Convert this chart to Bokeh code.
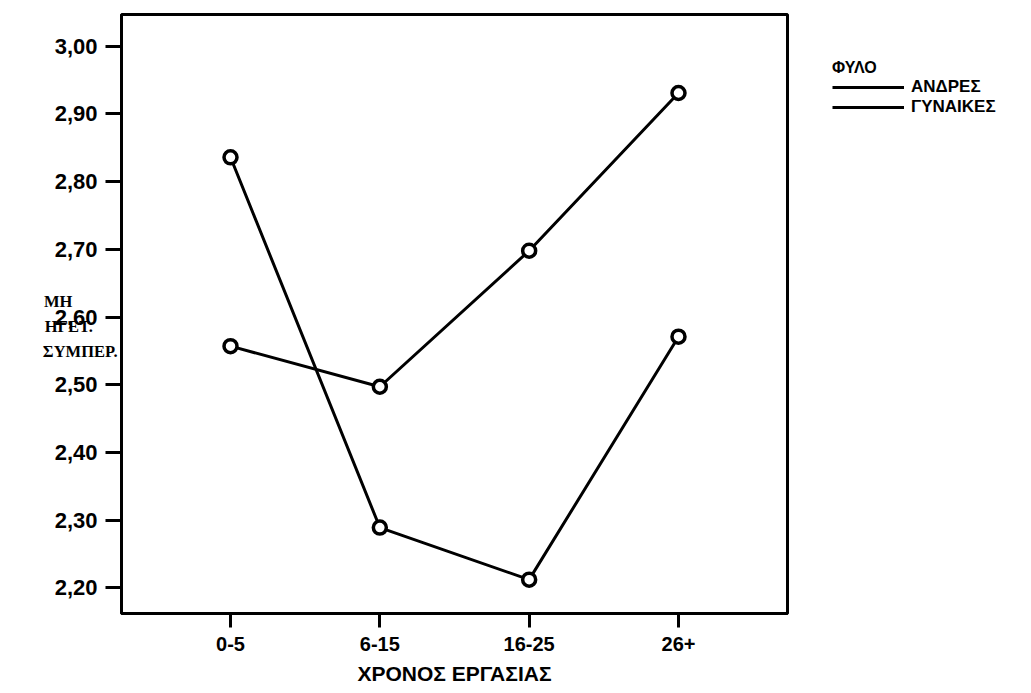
from bokeh.plotting import figure
from bokeh.models import FixedTicker, Range1d, Legend, LegendItem
from bokeh.embed import file_html
from bokeh.resources import INLINE

# ---- data ----
categories = ["0-5", "6-15", "16-25", "26+"]
men_values = [2.557, 2.497, 2.698, 2.931]
women_values = [2.836, 2.289, 2.212, 2.571]
series_names = ["ΑΝΔΡΕΣ", "ΓΥΝΑΙΚΕΣ"]
legend_title = "ΦΥΛΟ"
x_title = "ΧΡΟΝΟΣ ΕΡΓΑΣΙΑΣ"
y_title_lines = ["ΜΗ", "ΗΓΕΤ.", "ΣΥΜΠΕΡ."]
y_ticks = [2.2, 2.3, 2.4, 2.5, 2.6, 2.7, 2.8, 2.9, 3.0]
y_tick_labels = ["2,20", "2,30", "2,40", "2,50", "2,60", "2,70", "2,80", "2,90", "3,00"]

x_pos = list(range(1, len(categories) + 1))

# left-align the stacked y title lines (axis labels are right-aligned here),
# padding the shorter lines with non-breaking spaces
y_title_pad = [11, 6, 0]
y_title_text = "\n" + "\n".join(t + "\u00a0" * n for t, n in zip(y_title_lines, y_title_pad))

p = figure(frame_width=666, frame_height=599, output_backend="svg", toolbar_location=None,
           x_range=Range1d(0.27, 4.73), y_range=Range1d(2.162, 3.047),
           min_border_left=121, min_border_right=237, min_border_top=14, min_border_bottom=74)

p.xgrid.visible = False
p.ygrid.visible = False
p.outline_line_color = "black"
p.outline_line_width = 3
p.background_fill_color = "white"
p.border_fill_color = "white"

# axes
p.xaxis.ticker = FixedTicker(ticks=x_pos)
p.xaxis.major_label_overrides = {x: c for x, c in zip(x_pos, categories)}
p.yaxis.ticker = FixedTicker(ticks=y_ticks)
p.yaxis.major_label_overrides = {t: l for t, l in zip(y_ticks, y_tick_labels)}
for ax in (p.xaxis[0], p.yaxis[0]):
    ax.axis_line_width = 3
    ax.axis_line_color = "black"
    ax.major_tick_line_width = 3
    ax.major_tick_line_color = "black"
    ax.major_tick_in = 0
    ax.minor_tick_line_color = None
    ax.major_label_text_font = "Liberation Sans"
    ax.major_label_text_font_style = "bold"
    ax.major_label_text_color = "black"
p.yaxis.major_tick_out = 16
p.yaxis.major_label_standoff = 8
p.yaxis.major_label_text_font_size = "22px"
p.yaxis.axis_label = y_title_text
p.yaxis.axis_label_orientation = "horizontal"
p.yaxis.axis_label_text_font = "Liberation Serif"
p.yaxis.axis_label_text_font_style = "bold"
p.yaxis.axis_label_text_font_size = "16.5px"
p.yaxis.axis_label_text_line_height = 1.3
p.yaxis.axis_label_text_color = "black"
p.yaxis.axis_label_standoff = -66

p.xaxis.major_tick_out = 14
p.xaxis.major_label_standoff = 9
p.xaxis.major_label_text_font_size = "20px"
p.xaxis.axis_label = x_title
p.xaxis.axis_label_text_font = "Liberation Sans"
p.xaxis.axis_label_text_font_style = "bold"
p.xaxis.axis_label_text_font_size = "21px"
p.xaxis.axis_label_text_color = "black"
p.xaxis.axis_label_standoff = 8

# series
r_men = p.line(x_pos, men_values, line_color="black", line_width=3)
p.scatter(x_pos, men_values, marker="circle", size=13, fill_color="white",
          line_color="black", line_width=3.5)
r_women = p.line(x_pos, women_values, line_color="black", line_width=3)
p.scatter(x_pos, women_values, marker="circle", size=13, fill_color="white",
          line_color="black", line_width=3.5)

legend = Legend(items=[LegendItem(label=series_names[0], renderers=[r_men]),
                       LegendItem(label=series_names[1], renderers=[r_women])],
                location="top_left", title=legend_title,
                title_text_font="Liberation Sans", title_text_font_style="bold",
                title_text_font_size="16px", title_text_color="black", title_standoff=0,
                glyph_width=72, glyph_height=20,
                label_height=20, label_standoff=7, spacing=0, padding=0, margin=45,
                label_text_font="Liberation Sans", label_text_font_style="bold",
                label_text_font_size="17px", label_text_color="black",
                background_fill_alpha=0, border_line_alpha=0)
p.add_layout(legend, "right")

open("out.html", "w").write(file_html(p, INLINE))
